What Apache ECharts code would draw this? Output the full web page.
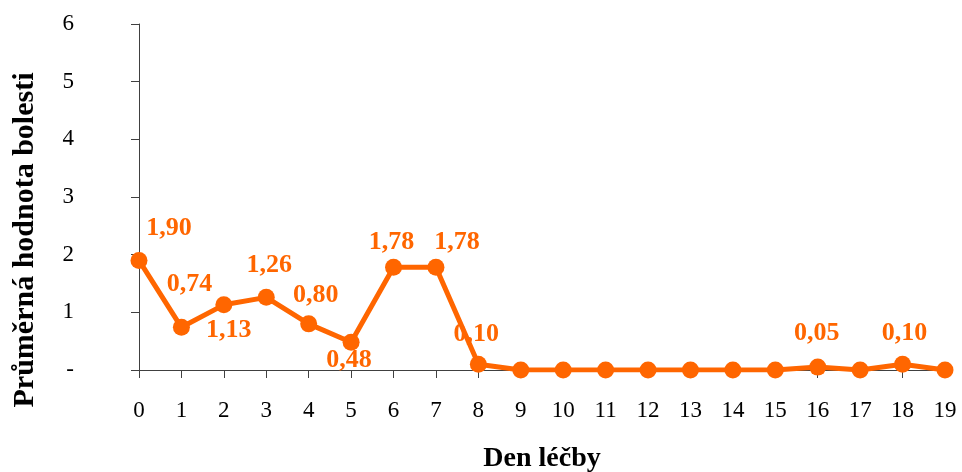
<!DOCTYPE html>
<html>
<head>
<meta charset="utf-8">
<script src="https://cdn.jsdelivr.net/npm/echarts@6/dist/echarts.min.js"></script>
<style>
	html, body { margin: 0; padding: 0; background: #fff; }
	#chart { width: 962px; height: 472px; }
</style>
</head>
<body>
<div id="chart"></div>
<script>
// dny léčby
var days = ['0', '1', '2', '3', '4', '5', '6', '7', '8', '9', '10', '11', '12', '13', '14', '15', '16', '17', '18', '19'];
// průměrná hodnota bolesti
var pain = [1.90, 0.74, 1.13, 1.26, 0.80, 0.48, 1.78, 1.78, 0.10, 0, 0, 0, 0, 0, 0, 0, 0.05, 0, 0.10, 0];
// které body mají popisek
var labelled = [true, true, true, true, true, true, true, true, true, false, false, false, false, false, false, false, true, false, true, false];
// popisky osy y
var yTicks = ['-', '1', '2', '3', '4', '5', '6'];

// posun popisků vůči bodu [dx, dy]
var labelShift = [
	[30, -32], [8, -43], [5, 25], [3, -32], [7, -29],
	[-2, 18], [-2, -25], [21, -25], [-2, -30], [0, 0],
	[0, 0], [0, 0], [0, 0], [0, 0], [0, 0],
	[0, 0], [-1, -34], [0, 0], [2, -31], [0, 0]
];

var orange = '#FF6600';
var font = '"Liberation Serif", "Times New Roman", serif';

function fmt(v) {
	return v.toFixed(2).replace('.', ',');
}

var seriesData = [];
for (var i = 0; i < pain.length; ++i) {
	seriesData.push({
		value: pain[i],
		label: {
			show: labelled[i],
			position: 'inside',
			offset: labelShift[i]
		}
	});
}

var myChart = echarts.init(document.getElementById('chart'));

var option = {
	animation: false,
	grid: {
		left: 139,
		right: 17,
		top: 24,
		bottom: 102,
		containLabel: false,
		outerBoundsMode: 'none'
	},
	xAxis: {
		type: 'category',
		data: days,
		boundaryGap: false,
		name: 'Den léčby',
		nameLocation: 'middle',
		nameGap: 75,
		nameTextStyle: {
			fontFamily: font,
			fontWeight: 'bold',
			fontSize: 28,
			color: '#000'
		},
		axisLine: { lineStyle: { color: '#404040', width: 1 } },
		axisTick: { show: true, length: 8, lineStyle: { color: '#404040' }, alignWithLabel: true },
		axisLabel: {
			margin: 29,
			fontFamily: font,
			fontSize: 23,
			color: '#000',
			interval: 0
		},
		splitLine: { show: false }
	},
	yAxis: {
		type: 'value',
		min: 0,
		max: 6,
		interval: 1,
		axisLine: { show: true, lineStyle: { color: '#404040', width: 1 } },
		axisTick: { show: true, length: 8, lineStyle: { color: '#404040' } },
		axisLabel: {
			margin: 65,
			fontFamily: font,
			fontSize: 23,
			color: '#000',
			formatter: function(v) {
				return yTicks[v];
			}
		},
		splitLine: { show: false }
	},
	graphic: [{
		type: 'text',
		x: 25,
		y: 240,
		rotation: Math.PI / 2,
		style: {
			text: 'Průměrná hodnota bolesti',
			font: 'bold 30px ' + font,
			fill: '#000',
			align: 'center',
			verticalAlign: 'middle'
		}
	}],
	series: [{
		type: 'line',
		data: seriesData,
		symbol: 'circle',
		symbolSize: 17,
		itemStyle: { color: orange },
		lineStyle: { color: orange, width: 5 },
		label: {
			fontFamily: font,
			fontWeight: 'bold',
			fontSize: 26,
			color: orange,
			formatter: function(p) {
				return fmt(p.value);
			}
		}
	}]
};

myChart.setOption(option);
</script>
</body>
</html>
